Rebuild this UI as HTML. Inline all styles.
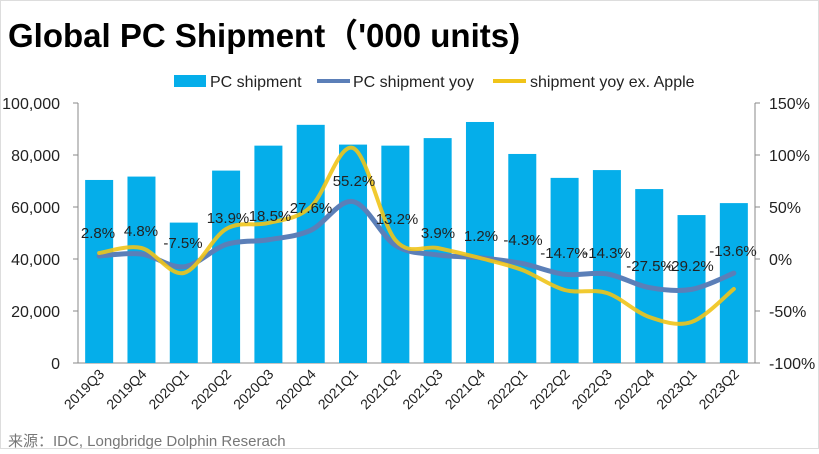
<!DOCTYPE html>
<html><head><meta charset="utf-8"><style>
body{margin:0;background:#fff;width:819px;height:449px;overflow:hidden;font-family:"Liberation Sans","Noto Sans CJK SC",sans-serif}
</style></head><body>
<svg id="s" width="819" height="449" xmlns="http://www.w3.org/2000/svg" font-family="Liberation Sans, Noto Sans CJK SC, sans-serif">
<rect x="0" y="0" width="819" height="449" fill="#fff"/>
<rect x="0.5" y="0.5" width="818" height="448" fill="none" stroke="#ddd"/>
<text x="8" y="47" font-size="33" font-weight="bold" fill="#000">Global PC Shipment（'000 units)</text>
<g id="g"></g>
<text x="8" y="446" font-size="15" fill="#777">来源：IDC, Longbridge Dolphin Reserach</text>
</svg>
<script>
const g=document.getElementById('g');let h='';
const L=78,R=755,T=103,B=363,n=16,w=(R-L)/n;
const bars=[70.4,71.7,54.0,74.0,83.6,91.6,84.0,83.6,86.5,92.7,80.4,71.2,74.2,66.9,56.9,61.5];
const yoy=[2.8,4.8,-7.5,13.9,18.5,27.6,55.2,13.2,3.9,1.2,-4.3,-14.7,-14.3,-27.5,-29.2,-13.6];
const yel=[253,248,273,229,223,207,148,240,248,258,270,290,293,317,322,289];
const cats=['2019Q3','2019Q4','2020Q1','2020Q2','2020Q3','2020Q4','2021Q1','2021Q2','2021Q3','2021Q4','2022Q1','2022Q2','2022Q3','2022Q4','2023Q1','2023Q2'];
const cx=i=>L+w*(i+0.5);
h+=`<line x1="${L}" y1="${T}" x2="${L}" y2="${B}" stroke="#888"/><line x1="${R}" y1="${T}" x2="${R}" y2="${B}" stroke="#888"/><line x1="${L}" y1="${B}" x2="${R}" y2="${B}" stroke="#888"/>`;
for(let k=0;k<=5;k++){const y=B-k*(B-T)/5;
h+=`<line x1="${L-5}" y1="${y}" x2="${L}" y2="${y}" stroke="#888"/><line x1="${R}" y1="${y}" x2="${R+5}" y2="${y}" stroke="#888"/>`;
h+=`<text x="${L-18}" y="${y+6}" font-size="16" text-anchor="end" fill="#222">${(k*20000).toLocaleString('en-US')}</text>`;
h+=`<text x="${R+14}" y="${y+6}" font-size="16" fill="#222">${-100+k*50}%</text>`;}
bars.forEach((v,i)=>{const y=B-v*2.6;h+=`<rect x="${cx(i)-14}" y="${y}" width="28" height="${B-y}" fill="#05aeea"/>`;});
function path(pts){let d=`M${pts[0][0]},${pts[0][1]}`;for(let i=0;i<pts.length-1;i++){const p0=pts[Math.max(0,i-1)],p1=pts[i],p2=pts[i+1],p3=pts[Math.min(pts.length-1,i+2)];
d+=` C${p1[0]+(p2[0]-p0[0])/6},${p1[1]+(p2[1]-p0[1])/6} ${p2[0]-(p3[0]-p1[0])/6},${p2[1]-(p3[1]-p1[1])/6} ${p2[0]},${p2[1]}`;}return d;}
const bp=yoy.map((v,i)=>[cx(i),259-v*1.04]);
const yp=yel.map((v,i)=>[cx(i),v]);
h+=`<path d="${path(bp)}" fill="none" stroke="#5b7fb8" stroke-width="5" stroke-linecap="round"/>`;
h+=`<path d="${path(yp)}" fill="none" stroke="#f0c419" stroke-width="4" stroke-linecap="round" opacity="0.9"/>`;
const lab=[[98,238],[141,236],[183,248],[228,223],[270,221],[311,213],[354,186],[397,224],[438,238],[481,241],[523,245],[564,258],[607,258],[650,271],[690,271],[733,256]];
yoy.forEach((v,i)=>{h+=`<text x="${lab[i][0]}" y="${lab[i][1]}" font-size="15" text-anchor="middle" fill="#222">${v}%</text>`;});
cats.forEach((c,i)=>{const x=cx(i)+6,y=B+12;h+=`<text transform="translate(${x},${y}) rotate(-45)" font-size="14" text-anchor="end" fill="#222">${c}</text>`;});
h+=`<rect x="174" y="75" width="32" height="12" fill="#05aeea"/><text x="210" y="87" font-size="16" fill="#222">PC shipment</text>`;
h+=`<line x1="317" y1="81" x2="350" y2="81" stroke="#5b7fb8" stroke-width="4"/><text x="353" y="87" font-size="16" fill="#222">PC shipment yoy</text>`;
h+=`<line x1="493" y1="81" x2="526" y2="81" stroke="#f0c419" stroke-width="4"/><text x="530" y="87" font-size="16" fill="#222">shipment yoy ex. Apple</text>`;
g.innerHTML=h;
</script>
</body></html>
